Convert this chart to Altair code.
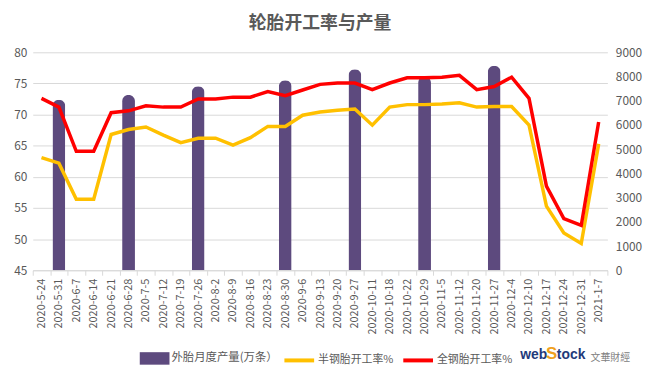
import altair as alt
import pandas as pd

dates = ["2020-5-24", "2020-5-31", "2020-6-7", "2020-6-14", "2020-6-21", "2020-6-28",
         "2020-7-5", "2020-7-12", "2020-7-19", "2020-7-26", "2020-8-2", "2020-8-9",
         "2020-8-16", "2020-8-23", "2020-8-30", "2020-9-6", "2020-9-13", "2020-9-20",
         "2020-9-27", "2020-10-11", "2020-10-18", "2020-10-22", "2020-10-29", "2020-11-5",
         "2020-11-12", "2020-11-20", "2020-11-27", "2020-12-4", "2020-12-10", "2020-12-17",
         "2020-12-24", "2020-12-31", "2021-1-7"]

semi_steel = [63.1, 62.2, 56.4, 56.4, 66.8, 67.6, 68.0, 66.7, 65.5, 66.2, 66.2, 65.1,
              66.3, 68.1, 68.1, 69.9, 70.4, 70.7, 70.9, 68.3, 71.2, 71.6, 71.6, 71.7,
              71.9, 71.2, 71.3, 71.3, 68.3, 55.3, 51.0, 49.3, 65.3]

all_steel = [72.6, 71.2, 64.1, 64.1, 70.3, 70.6, 71.4, 71.2, 71.2, 72.5, 72.5, 72.8,
             72.8, 73.7, 73.05, 73.95, 74.85, 75.07, 75.07, 74.0, 75.07, 75.9, 75.9, 76.0,
             76.3, 74.0, 74.5, 76.0, 72.6, 58.5, 53.3, 52.2, 68.8]

output_dates = ["2020-5-31", "2020-6-28", "2020-7-26", "2020-8-30", "2020-9-27",
                "2020-10-29", "2020-11-27"]
output_values = [7040, 7240, 7600, 7850, 8300, 8000, 8450]

bar_name = "外胎月度产量(万条）"
semi_name = "半钢胎开工率%"
all_name = "全钢胎开工率%"

FONT = "Noto Sans CJK SC"
GRAY = "#595959"

df_bar = pd.DataFrame({"date": output_dates, "output": output_values, "series": bar_name})
df_line = pd.concat([
    pd.DataFrame({"date": dates, "rate": semi_steel, "series": semi_name}),
    pd.DataFrame({"date": dates, "rate": all_steel, "series": all_name}),
])

x_enc = alt.X("date:N", sort=dates,
              scale=alt.Scale(domain=dates, paddingInner=0, paddingOuter=0),
              axis=alt.Axis(title=None, labelAngle=-90, tickBand="extent", ticks=True,
                            tickColor="#D9D9D9", tickSize=5, domainColor="#D9D9D9",
                            labelFontSize=11, labelColor=GRAY, labelFont=FONT,
                            labelPadding=3, grid=False))

bars = alt.Chart(df_bar).mark_bar(
    size=13, cornerRadiusTopLeft=6.5, cornerRadiusTopRight=6.5
).encode(
    x=x_enc,
    y=alt.Y("output:Q", scale=alt.Scale(domain=[0, 9000], nice=False),
            axis=alt.Axis(orient="right", title=None, values=list(range(0, 9001, 1000)),
                          format="d", grid=False, domain=False, ticks=False,
                          labelColor=GRAY, labelFontSize=12, labelFont=FONT,
                          labelPadding=8)),
    color=alt.Color("series:N",
                    scale=alt.Scale(domain=[bar_name], range=["#5D4A7E"]),
                    legend=alt.Legend(title=None, orient="none", legendX=108, legendY=294,
                                      symbolType="M-1,-0.42H1V0.42H-1Z", symbolSize=900,
                                      symbolStrokeWidth=0, labelFont=FONT,
                                      labelFontSize=11.5, labelColor=GRAY, labelOffset=2,
                                      padding=0)),
)

lines = alt.Chart(df_line).mark_line(strokeWidth=3.5).encode(
    x=x_enc,
    y=alt.Y("rate:Q", scale=alt.Scale(domain=[45, 80], nice=False, zero=False),
            axis=alt.Axis(orient="left", title=None, values=list(range(45, 81, 5)),
                          grid=True, gridColor="#D9D9D9", domain=False, ticks=False,
                          labelColor=GRAY, labelFontSize=12, labelFont=FONT,
                          labelPadding=6)),
    color=alt.Color("series:N", sort=[semi_name, all_name],
                    scale=alt.Scale(domain=[semi_name, all_name],
                                    range=["#FFC000", "#FF0000"]),
                    legend=alt.Legend(title=None, orient="none", legendX=252, legendY=294,
                                      direction="horizontal", symbolType="stroke",
                                      symbolSize=900, symbolStrokeWidth=4,
                                      labelFont=FONT, labelFontSize=11, labelColor=GRAY,
                                      labelOffset=2, columnPadding=1, padding=0)),
    detail="series:N",
)

logo_df = pd.DataFrame({"k": [1]})
logo_web = alt.Chart(logo_df).mark_text(
    font="Liberation Sans", fontSize=14, fontWeight="bold", color="#1F3A7A", align="left",
    baseline="middle"
).encode(x=alt.value(492), y=alt.value(306), text=alt.value("web"))
logo_s = alt.Chart(logo_df).mark_text(
    font="Liberation Sans", fontSize=17, fontWeight="bold", color="#F0A020", align="left",
    baseline="middle"
).encode(x=alt.value(518), y=alt.value(305), text=alt.value("S"))
logo_tock = alt.Chart(logo_df).mark_text(
    font="Liberation Sans", fontSize=14, fontWeight="bold", color="#1F3A7A", align="left",
    baseline="middle"
).encode(x=alt.value(529), y=alt.value(306), text=alt.value("tock"))
logo_cn = alt.Chart(logo_df).mark_text(
    font=FONT, fontSize=10, color="#808080", align="left", baseline="middle"
).encode(x=alt.value(563), y=alt.value(309), text=alt.value("文華財經"))

chart = alt.layer(bars, lines, logo_web, logo_s, logo_tock, logo_cn).resolve_scale(
    y="independent", color="independent"
).properties(
    width=580, height=220,
    title=alt.TitleParams("轮胎开工率与产量", fontSize=18, font=FONT, color=GRAY,
                          fontWeight="bold", anchor="middle", offset=14),
    background="white",
).configure_view(stroke=None)

chart.save("out.html", embed_options={"renderer": "svg", "actions": False})
